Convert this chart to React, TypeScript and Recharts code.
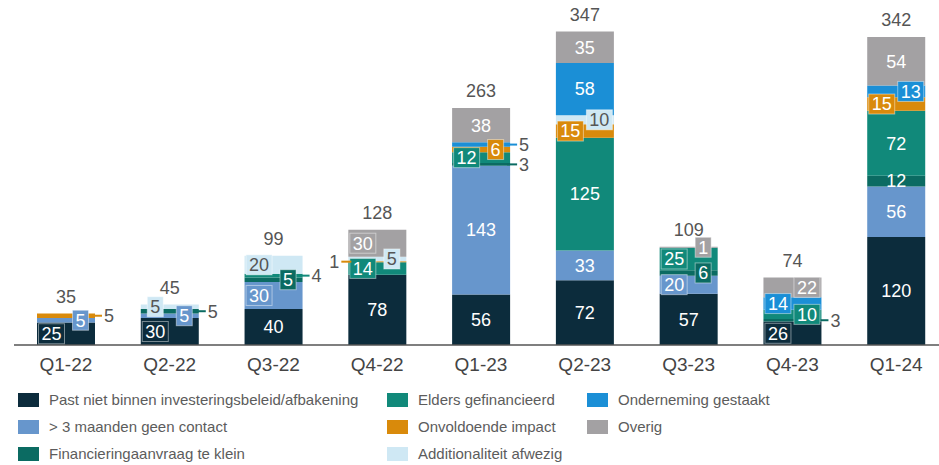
import { BarChart, Bar, XAxis, YAxis, Legend, LabelList } from 'recharts';

const quarters = ['Q1-22', 'Q2-22', 'Q3-22', 'Q4-22', 'Q1-23', 'Q2-23', 'Q3-23', 'Q4-23', 'Q1-24'];
const pastNiet = [25, 30, 40, 78, 56, 72, 57, 26, 120];
const geenContact = [5, 5, 30, 0, 143, 33, 20, 0, 56];
const teKlein = [0, 5, 5, 0, 3, 0, 6, 3, 12];
const eldersGefinancierd = [0, 0, 4, 14, 12, 125, 25, 10, 72];
const onvoldoendeImpact = [5, 0, 0, 1, 6, 15, 0, 0, 15];
const additionaliteit = [0, 5, 20, 5, 0, 10, 0, 0, 0];
const gestaakt = [0, 0, 0, 0, 5, 58, 0, 14, 13];
const overig = [0, 0, 0, 30, 38, 35, 1, 22, 54];
const totals = [35, 45, 99, 128, 263, 347, 109, 74, 342];

const series = [
  { key: 'past', name: 'Past niet binnen investeringsbeleid/afbakening', values: pastNiet, color: '#0c2c3c' },
  { key: 'contact', name: '> 3 maanden geen contact', values: geenContact, color: '#6796cc' },
  { key: 'klein', name: 'Financieringaanvraag te klein', values: teKlein, color: '#0b6b62' },
  { key: 'elders', name: 'Elders gefinancieerd', values: eldersGefinancierd, color: '#11897a' },
  { key: 'onv', name: 'Onvoldoende impact', values: onvoldoendeImpact, color: '#d98a0b' },
  { key: 'addit', name: 'Additionaliteit afwezig', values: additionaliteit, color: '#cfe8f4' },
  { key: 'gestaakt', name: 'Onderneming gestaakt', values: gestaakt, color: '#1b8fd6' },
  { key: 'overig', name: 'Overig', values: overig, color: '#a3a1a3' },
];

// where each segment label goes: c=center, l/r=box left/right, o/ol=outside right/left, -=none
const placement: Record<string, string[]> = {
  past: ['l', 'l', 'c', 'c', 'c', 'c', 'c', 'l', 'c'],
  contact: ['r', 'r', 'l', '-', 'c', 'c', 'l', '-', 'c'],
  klein: ['-', 'o', 'r', '-', 'o', '-', 'r', 'o', 'c'],
  elders: ['-', '-', 'o', 'l', 'l', 'c', 'l', 'r', 'c'],
  onv: ['o', '-', '-', 'ol', 'r', 'l', '-', '-', 'l'],
  addit: ['-', 'l', 'l', 'r', '-', 'r', '-', '-', '-'],
  gestaakt: ['-', '-', '-', '-', 'o', 'c', '-', 'l', 'r'],
  overig: ['-', '-', '-', 'l', 'c', 'c', 'r', 'r', 'c'],
};

const data = quarters.map((q, i) => {
  const row: Record<string, any> = { q, idx: i };
  series.forEach((s) => (row[s.key] = s.values[i]));
  return row;
});

const FONT = '"Liberation Sans", Arial, sans-serif';
const idxOf = (d: any) => d.idx;

const makeLabel = (key: string, color: string, values: number[]) => (props: any) => {
  const { x, y, width, height } = props;
  const index = props.value as number;
  const value = values[index];
  const mode = placement[key][index];
  if (!value || mode === '-') return null;
  const cy = y + height / 2;
  const txtColor = key === 'addit' ? '#555' : '#fff';
  const label = String(value);
  if (mode === 'o' || mode === 'ol') {
    const right = mode === 'o';
    const x0 = right ? x + width - 3 : x + 3;
    const x1 = right ? x + width + 7 : x - 7;
    return (
      <g>
        <line x1={x0} x2={x1} y1={cy} y2={cy} stroke={color} strokeWidth={2} />
        <text x={right ? x1 + 2 : x1 - 2} y={cy} dy="0.35em" textAnchor={right ? 'start' : 'end'}
          fontSize={18} fill="#555" fontFamily={FONT}>{label}</text>
      </g>
    );
  }
  if (mode === 'c') {
    return (
      <text x={x + width / 2} y={cy} dy="0.35em" textAnchor="middle" fontSize={18} fill={txtColor} fontFamily={FONT}>
        {label}
      </text>
    );
  }
  const cx = mode === 'l' ? x + width * 0.25 : x + width * 0.75;
  const bw = label.length * 10 + 6;
  return (
    <g>
      <rect x={cx - bw / 2} y={cy - 10} width={bw} height={20} fill={color} stroke="#fff" strokeOpacity={0.45} strokeWidth={1} />
      <text x={cx} y={cy} dy="0.35em" textAnchor="middle" fontSize={18} fill={txtColor} fontFamily={FONT}>
        {label}
      </text>
    </g>
  );
};

// totals are placed from the bottom segment's geometry (px per unit) and the stacked sum
const renderTotal = (props: any) => {
  const { x, y, width, height } = props;
  const i = props.value as number;
  const perUnit = height / pastNiet[i];
  const stackSum = series.reduce((acc, s) => acc + s.values[i], 0);
  const top = y + height - stackSum * perUnit;
  return (
    <text x={x + width / 2} y={top - 17} dy="0.35em" textAnchor="middle" fontSize={18} fill="#555" fontFamily={FONT}>
      {totals[i]}
    </text>
  );
};

const legendCols = [
  { sx: 18, tx: 49, keys: ['past', 'contact', 'klein'] },
  { sx: 387, tx: 418, keys: ['elders', 'onv', 'addit'] },
  { sx: 587, tx: 618, keys: ['gestaakt', 'overig'] },
];

const renderLegend = () => (
  <div style={{ position: 'relative', width: 939, height: 90, fontFamily: FONT }}>
    {legendCols.map((col) =>
      col.keys.map((k, r) => {
        const s = series.find((it) => it.key === k)!;
        const cy = 25 + r * 27;
        return (
          <div key={k}>
            <div style={{ position: 'absolute', left: col.sx, top: cy - 7, width: 21, height: 14, background: s.color }} />
            <div style={{ position: 'absolute', left: col.tx, top: cy - 10, fontSize: 15, lineHeight: '20px', color: '#5c5c5c', whiteSpace: 'nowrap' }}>
              {s.name}
            </div>
          </div>
        );
      })
    )}
  </div>
);

const renderTick = (props: any) => {
  const { x, payload } = props;
  return (
    <text x={x} y={364} dy="0.35em" textAnchor="middle" fontSize={19} fill="#444" fontFamily={FONT}>
      {payload.value}
    </text>
  );
};

export default function App() {
  return (
    <div style={{ position: 'fixed', left: 0, top: 0, width: 939, height: 465, overflow: 'hidden', background: '#fff' }}>
      <BarChart width={950} height={465} data={data} margin={{ top: 0, right: 2, left: 14, bottom: 0 }} barSize={58}>
        <XAxis dataKey="q" height={30} tickLine={false} axisLine={{ stroke: '#555', strokeWidth: 1.5 }} tick={renderTick} interval={0} />
        <YAxis hide domain={[0, 383]} />
        <Legend content={renderLegend} verticalAlign="bottom" wrapperStyle={{ left: 0, top: 375, width: 939, height: 90 }} />
        {series.map((s) => (
          <Bar key={s.key} dataKey={s.key} name={s.name} stackId="a" fill={s.color} isAnimationActive={false}>
            <LabelList dataKey={idxOf} content={makeLabel(s.key, s.color, s.values)} />
            {s.key === 'past' && <LabelList dataKey={idxOf} content={renderTotal} />}
          </Bar>
        ))}
      </BarChart>
    </div>
  );
}
